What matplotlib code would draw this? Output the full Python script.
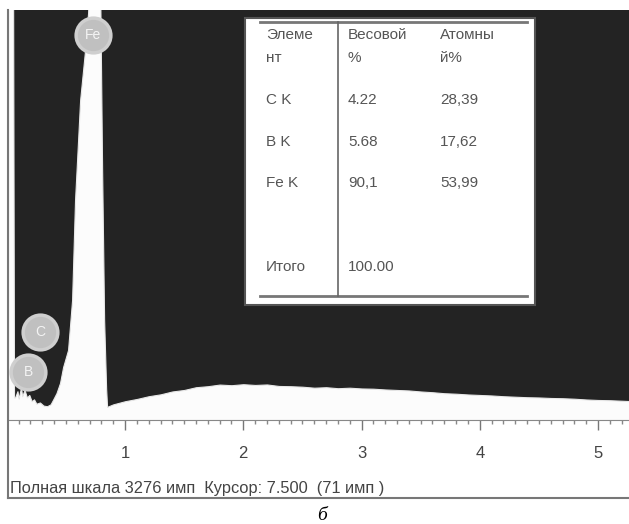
import matplotlib
matplotlib.use('Agg')
import matplotlib.pyplot as plt
from matplotlib.patches import Rectangle
from matplotlib.lines import Line2D

plt.rcParams['font.family'] = ['Liberation Sans', 'DejaVu Sans']

# EDS spectrum, energy in keV, counts (full scale 3276)
energy = [0.011, 0.053, 0.061, 0.07, 0.09, 0.10, 0.12, 0.13, 0.15, 0.17, 0.19,
          0.21, 0.23, 0.25, 0.28, 0.31, 0.34, 0.37, 0.39, 0.42, 0.45, 0.476,
          0.518, 0.552, 0.577, 0.62, 0.662, 0.687, 0.70, 0.789, 0.806, 0.823,
          0.84, 0.848,
          0.9, 1.0, 1.1, 1.2, 1.3, 1.4, 1.5, 1.6, 1.7, 1.8, 1.9, 2.0, 2.1,
          2.2, 2.3, 2.4, 2.5, 2.6, 2.7, 2.8, 2.9, 3.0, 3.1, 3.2, 3.3, 3.4,
          3.5, 3.6, 3.7, 3.8, 3.9, 4.0, 4.1, 4.2, 4.3, 4.4, 4.5, 4.6, 4.7,
          4.8, 4.9, 5.0, 5.1, 5.2, 5.3]
counts = [3500, 3500, 180, 180, 230, 170, 260, 190, 240, 180, 200,
          150, 165, 130, 140, 115, 110, 125, 160, 215, 296, 423,
          560, 959, 1758, 2557, 2956, 3250, 3500, 3500, 2000, 800,
          250, 105,
          125, 150, 168, 190, 205, 228, 240, 262, 270, 283, 278, 286, 280,
          284, 272, 270, 266, 258, 262, 254, 258, 252, 250, 244, 240, 236,
          228, 222, 214, 210, 204, 200, 196, 190, 186, 182, 180, 176, 174,
          170, 164, 160, 158, 154, 150]

full_scale = 3276
tick_vals = [1, 2, 3, 4, 5]

peak_labels = ['Fe', 'C', 'B']
peak_x = [0.729, 0.281, 0.18]
peak_y = [3076, 700, 384]

tbl_header = [['Элеме', 'нт'], ['Весовой', '%'], ['Атомны', 'й%']]
tbl_elems = ['C K', 'B K', 'Fe K']
tbl_wt = ['4.22', '5.68', '90,1']
tbl_at = ['28,39', '17,62', '53,99']
tbl_total = ['Итого', '100.00']

W, H = 629, 524
fig = plt.figure(figsize=(W / 100, H / 100), dpi=100)
fx = lambda px: px / W
fy = lambda py: 1 - py / H

dark = '#232323'
ax = fig.add_axes([fx(8), fy(420), fx(629) - fx(8), fy(10) - fy(420)])
ax.set_facecolor(dark)
ax.fill_between(energy, 0, counts, color='#fcfcfc', lw=0.8, edgecolor='#e8e8e8')
ax.set_xlim(0.01, 5.262)
ax.set_ylim(0, full_scale)

for s in ['top', 'right', 'left']:
    ax.spines[s].set_visible(False)
ax.spines['bottom'].set_color('#888888')
ax.set_yticks([])
ax.set_xticks(tick_vals)
ax.set_xticks([i / 10 for i in range(1, 53)], minor=True)
ax.tick_params(axis='x', which='major', direction='out', length=7, width=1,
               color='#777777', labelsize=12, labelcolor='#444444', pad=12)
ax.tick_params(axis='x', which='minor', direction='out', length=3, width=1,
               color='#888888')

# peak markers
for lab, x, y in zip(peak_labels, peak_x, peak_y):
    ax.plot(x, y, 'o', ms=25, mfc='#c0c0c0', mec='#cfcfcf', mew=2.5, zorder=5,
            clip_on=False)
    ax.text(x, y, lab, ha='center', va='center', color='#f4f4f4',
            fontsize=10, zorder=6)

# results table
fig.add_artist(Rectangle((fx(245), fy(305)), fx(535) - fx(245), fy(18) - fy(305),
                         transform=fig.transFigure, facecolor='white',
                         edgecolor='#555555', lw=1.5, zorder=3))
for yy in [22, 296]:
    fig.add_artist(Line2D([fx(260), fx(527)], [fy(yy), fy(yy)],
                          transform=fig.transFigure, color='#777777', lw=2, zorder=4))
fig.add_artist(Line2D([fx(338), fx(338)], [fy(22), fy(296)],
                      transform=fig.transFigure, color='#666666', lw=1.2, zorder=4))

tcol = '#555555'
tfs = 11
cols_x = [266, 348, 440]
for cx, hdr in zip(cols_x, tbl_header):
    fig.text(fx(cx), fy(35), hdr[0], fontsize=tfs, color=tcol, va='center', zorder=5)
    fig.text(fx(cx), fy(58), hdr[1], fontsize=tfs, color=tcol, va='center', zorder=5)
for ry, e, w, a in zip([100, 142, 183], tbl_elems, tbl_wt, tbl_at):
    fig.text(fx(266), fy(ry), e, fontsize=tfs, color=tcol, va='center', zorder=5)
    fig.text(fx(348), fy(ry), w, fontsize=tfs, color=tcol, va='center', zorder=5)
    fig.text(fx(440), fy(ry), a, fontsize=tfs, color=tcol, va='center', zorder=5)
fig.text(fx(266), fy(267), tbl_total[0], fontsize=tfs, color=tcol, va='center', zorder=5)
fig.text(fx(348), fy(267), tbl_total[1], fontsize=tfs, color=tcol, va='center', zorder=5)

# screenshot frame
fig.add_artist(Line2D([fx(8), fx(8)], [fy(10), fy(498)], transform=fig.transFigure,
                      color='#777777', lw=1.5))
fig.add_artist(Line2D([fx(8), fx(629)], [fy(498), fy(498)], transform=fig.transFigure,
                      color='#777777', lw=1.5))

fig.text(fx(10), fy(488), 'Полная шкала 3276 имп  Курсор: 7.500  (71 имп )',
         fontsize=11.8, color='#444444', va='center')
fig.text(fx(322), fy(515), 'б', fontsize=14, style='italic',
         family=['Liberation Serif', 'DejaVu Serif'], ha='center', va='center')

fig.savefig('out.png', dpi=100)
